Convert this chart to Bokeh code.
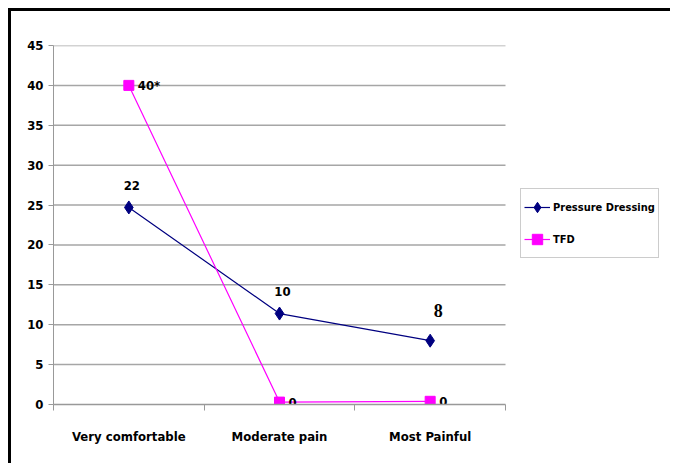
from bokeh.plotting import figure
from bokeh.models import Range1d, FixedTicker, Legend, LegendItem
from bokeh.core.properties import value
from bokeh.embed import file_html
from bokeh.resources import INLINE

categories = ["Very comfortable", "Moderate pain", "Most Painful"]
pressure_dressing = [24.7, 11.4, 8.0]
pressure_labels = ["22", "10", "8"]
tfd = [40.0, 0.3, 0.4]
tfd_labels = ["40*", "0", "0"]
y_ticks = [0, 5, 10, 15, 20, 25, 30, 35, 40, 45]

n = len(categories)
xs = [i + 0.5 for i in range(n)]

SANS = "DejaVu Sans Condensed, DejaVu Sans"

# plotted categories occupy 452 px of a 620 px wide frame; the rest holds the legend
PLOT_PX, FRAME_PX = 452, 620
x_end = n * FRAME_PX / PLOT_PX

p = figure(width=662, height=455, output_backend="svg", toolbar_location=None,
           x_range=Range1d(0, x_end), y_range=Range1d(0, 45),
           min_border_left=42, min_border_top=34, min_border_bottom=62, min_border_right=0)
p.styles = {"margin-top": "8px", "margin-left": "8px",
            "border-top": "3px solid black", "border-left": "3px solid black"}
p.outline_line_color = None
p.background_fill_color = "white"
p.border_fill_color = "white"

# horizontal grid lines spanning the category area only
p.ygrid.grid_line_color = None
p.xgrid.grid_line_color = None
p.segment(x0=[0] * len(y_ticks[1:]), y0=y_ticks[1:], x1=[n] * len(y_ticks[1:]), y1=y_ticks[1:],
          line_color="#a6a6a6", line_width=1.5)

# y axis
p.yaxis.ticker = FixedTicker(ticks=y_ticks)
p.yaxis.axis_line_color = "#999999"
p.yaxis.major_tick_line_color = "#999999"
p.yaxis.major_tick_out = 5
p.yaxis.major_tick_in = 0
p.yaxis.minor_tick_line_color = None
p.yaxis.major_label_text_font = SANS
p.yaxis.major_label_text_font_style = "bold"
p.yaxis.major_label_text_font_size = "13px"
p.yaxis.major_label_text_color = "black"
p.yaxis.major_label_standoff = 5

# x axis: labels at category centres, ticks at boundaries
p.xaxis.bounds = (0, n)
p.xaxis.ticker = FixedTicker(ticks=xs, minor_ticks=list(range(n + 1)))
p.xaxis.major_label_overrides = {x: c for x, c in zip(xs, categories)}
p.xaxis.major_tick_line_color = None
p.xaxis.minor_tick_line_color = "#999999"
p.xaxis.minor_tick_out = 6
p.xaxis.minor_tick_in = 0
p.xaxis.axis_line_color = "#999999"
p.xaxis.axis_line_width = 1.5
p.xaxis.major_label_text_font = SANS
p.xaxis.major_label_text_font_style = "bold"
p.xaxis.major_label_text_font_size = "13px"
p.xaxis.major_label_text_color = "black"
p.xaxis.major_label_standoff = 18

# series
pd_line = p.line(xs, pressure_dressing, line_color="#000080", line_width=1.2)
pd_mark = p.scatter(xs, pressure_dressing, marker="diamond", size=13,
                    fill_color="#000080", line_color="#000080")
tfd_line = p.line(xs, tfd, line_color="#FF00FF", line_width=1.2)
tfd_mark = p.scatter(xs, tfd, marker="square", size=10,
                     fill_color="#FF00FF", line_color="#FF00FF")

# data labels
p.text(xs[:2], pressure_dressing[:2], text=pressure_labels[:2], x_offset=3, y_offset=-22,
       text_font=value(SANS), text_font_style="bold", text_font_size="13px",
       text_align="center", text_baseline="middle", text_color="black")
p.text(xs[2:], pressure_dressing[2:], text=pressure_labels[2:], x_offset=8, y_offset=-30,
       text_font=value("Liberation Serif"), text_font_style="bold", text_font_size="18px",
       text_align="center", text_baseline="middle", text_color="black")
p.text(xs, tfd, text=tfd_labels, x_offset=9, y_offset=0,
       text_font=value(SANS), text_font_style="bold", text_font_size="13px",
       text_align="left", text_baseline="middle", text_color="black")

legend = Legend(items=[LegendItem(label="Pressure Dressing", renderers=[pd_line, pd_mark]),
                       LegendItem(label="TFD", renderers=[tfd_line, tfd_mark])],
                location=(467, 146))
legend.border_line_color = "#999999"
legend.border_line_width = 1.5
legend.padding = 3
legend.spacing = 2
legend.label_height = 30
legend.glyph_height = 30
legend.glyph_width = 26
legend.label_standoff = 3
legend.label_text_font = SANS
legend.label_text_font_style = "bold"
legend.label_text_font_size = "11px"
legend.label_text_color = "black"
legend.background_fill_alpha = 1
p.add_layout(legend, "center")

open("out.html", "w").write(file_html(p, INLINE))
